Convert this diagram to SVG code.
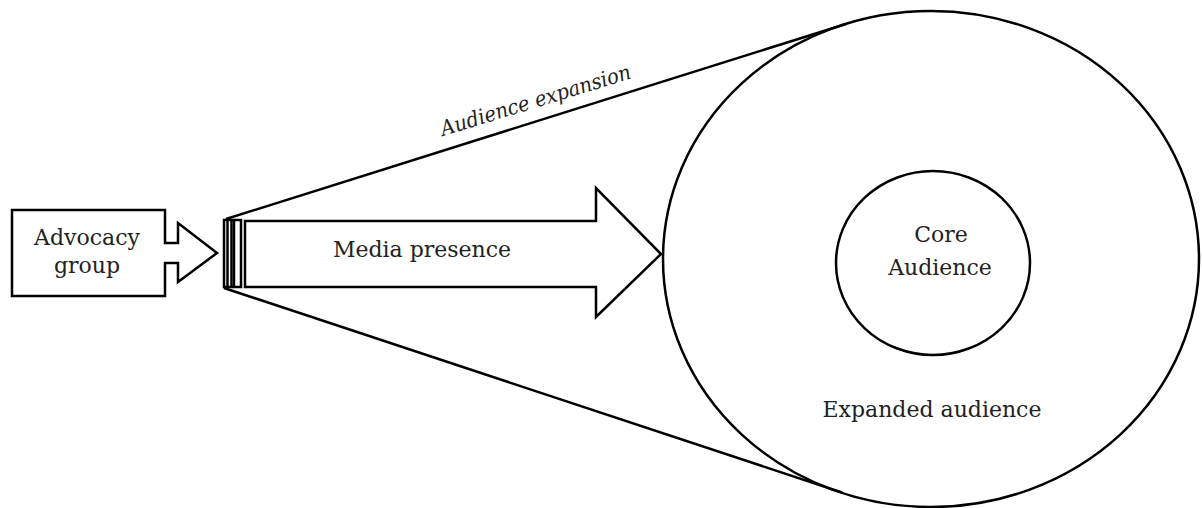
<svg xmlns="http://www.w3.org/2000/svg" width="1202" height="508" viewBox="0 0 1202 508">
<style>
.s{fill:#fff;stroke:#000;stroke-width:2.5;stroke-linejoin:miter}
.l{fill:none;stroke:#000;stroke-width:2.5}
.t{font-family:"DejaVu Serif","Liberation Serif",serif;font-size:22px;fill:#222;text-anchor:middle}
</style>
<rect width="1202" height="508" fill="#fff"/>
<g id="outer-audience">
<ellipse class="s" cx="931" cy="259" rx="268" ry="248"/>
<text class="t" x="932" y="417">Expanded audience</text>
</g>
<g id="core-audience">
<ellipse class="s" cx="933" cy="263" rx="97" ry="92"/>
<text class="t" x="941" y="242">Core</text>
<text class="t" x="940" y="275">Audience</text>
</g>
<g id="connectors">
<line class="l" x1="226" y1="219" x2="846" y2="24"/>
<line class="l" x1="224" y1="288" x2="842" y2="492.5"/>
<text font-family="DejaVu Serif,Liberation Serif,serif" font-style="italic" font-size="21" fill="#222" transform="translate(443,136) rotate(-17)" textLength="198" lengthAdjust="spacingAndGlyphs">Audience expansion</text>
</g>
<g id="advocacy-group">
<path class="s" d="M12,210 H165 V243 H178 V223 L217,253 L178,282 V263 H165 V296 H12 Z"/>
<text class="t" x="87" y="245">Advocacy</text>
<text class="t" x="87" y="273">group</text>
</g>
<g id="media-presence">
<rect class="s" x="224" y="220" width="17" height="67"/>
<line class="l" x1="227.5" y1="220" x2="227.5" y2="287"/>
<line class="l" x1="231.5" y1="220" x2="231.5" y2="287"/>
<line class="l" x1="234" y1="220" x2="234" y2="287"/>
<path class="s" d="M245,221 H596 V188 L661,254 L596,317 V287 H245 Z"/>
<text class="t" x="422" y="257">Media presence</text>
</g>
</svg>
